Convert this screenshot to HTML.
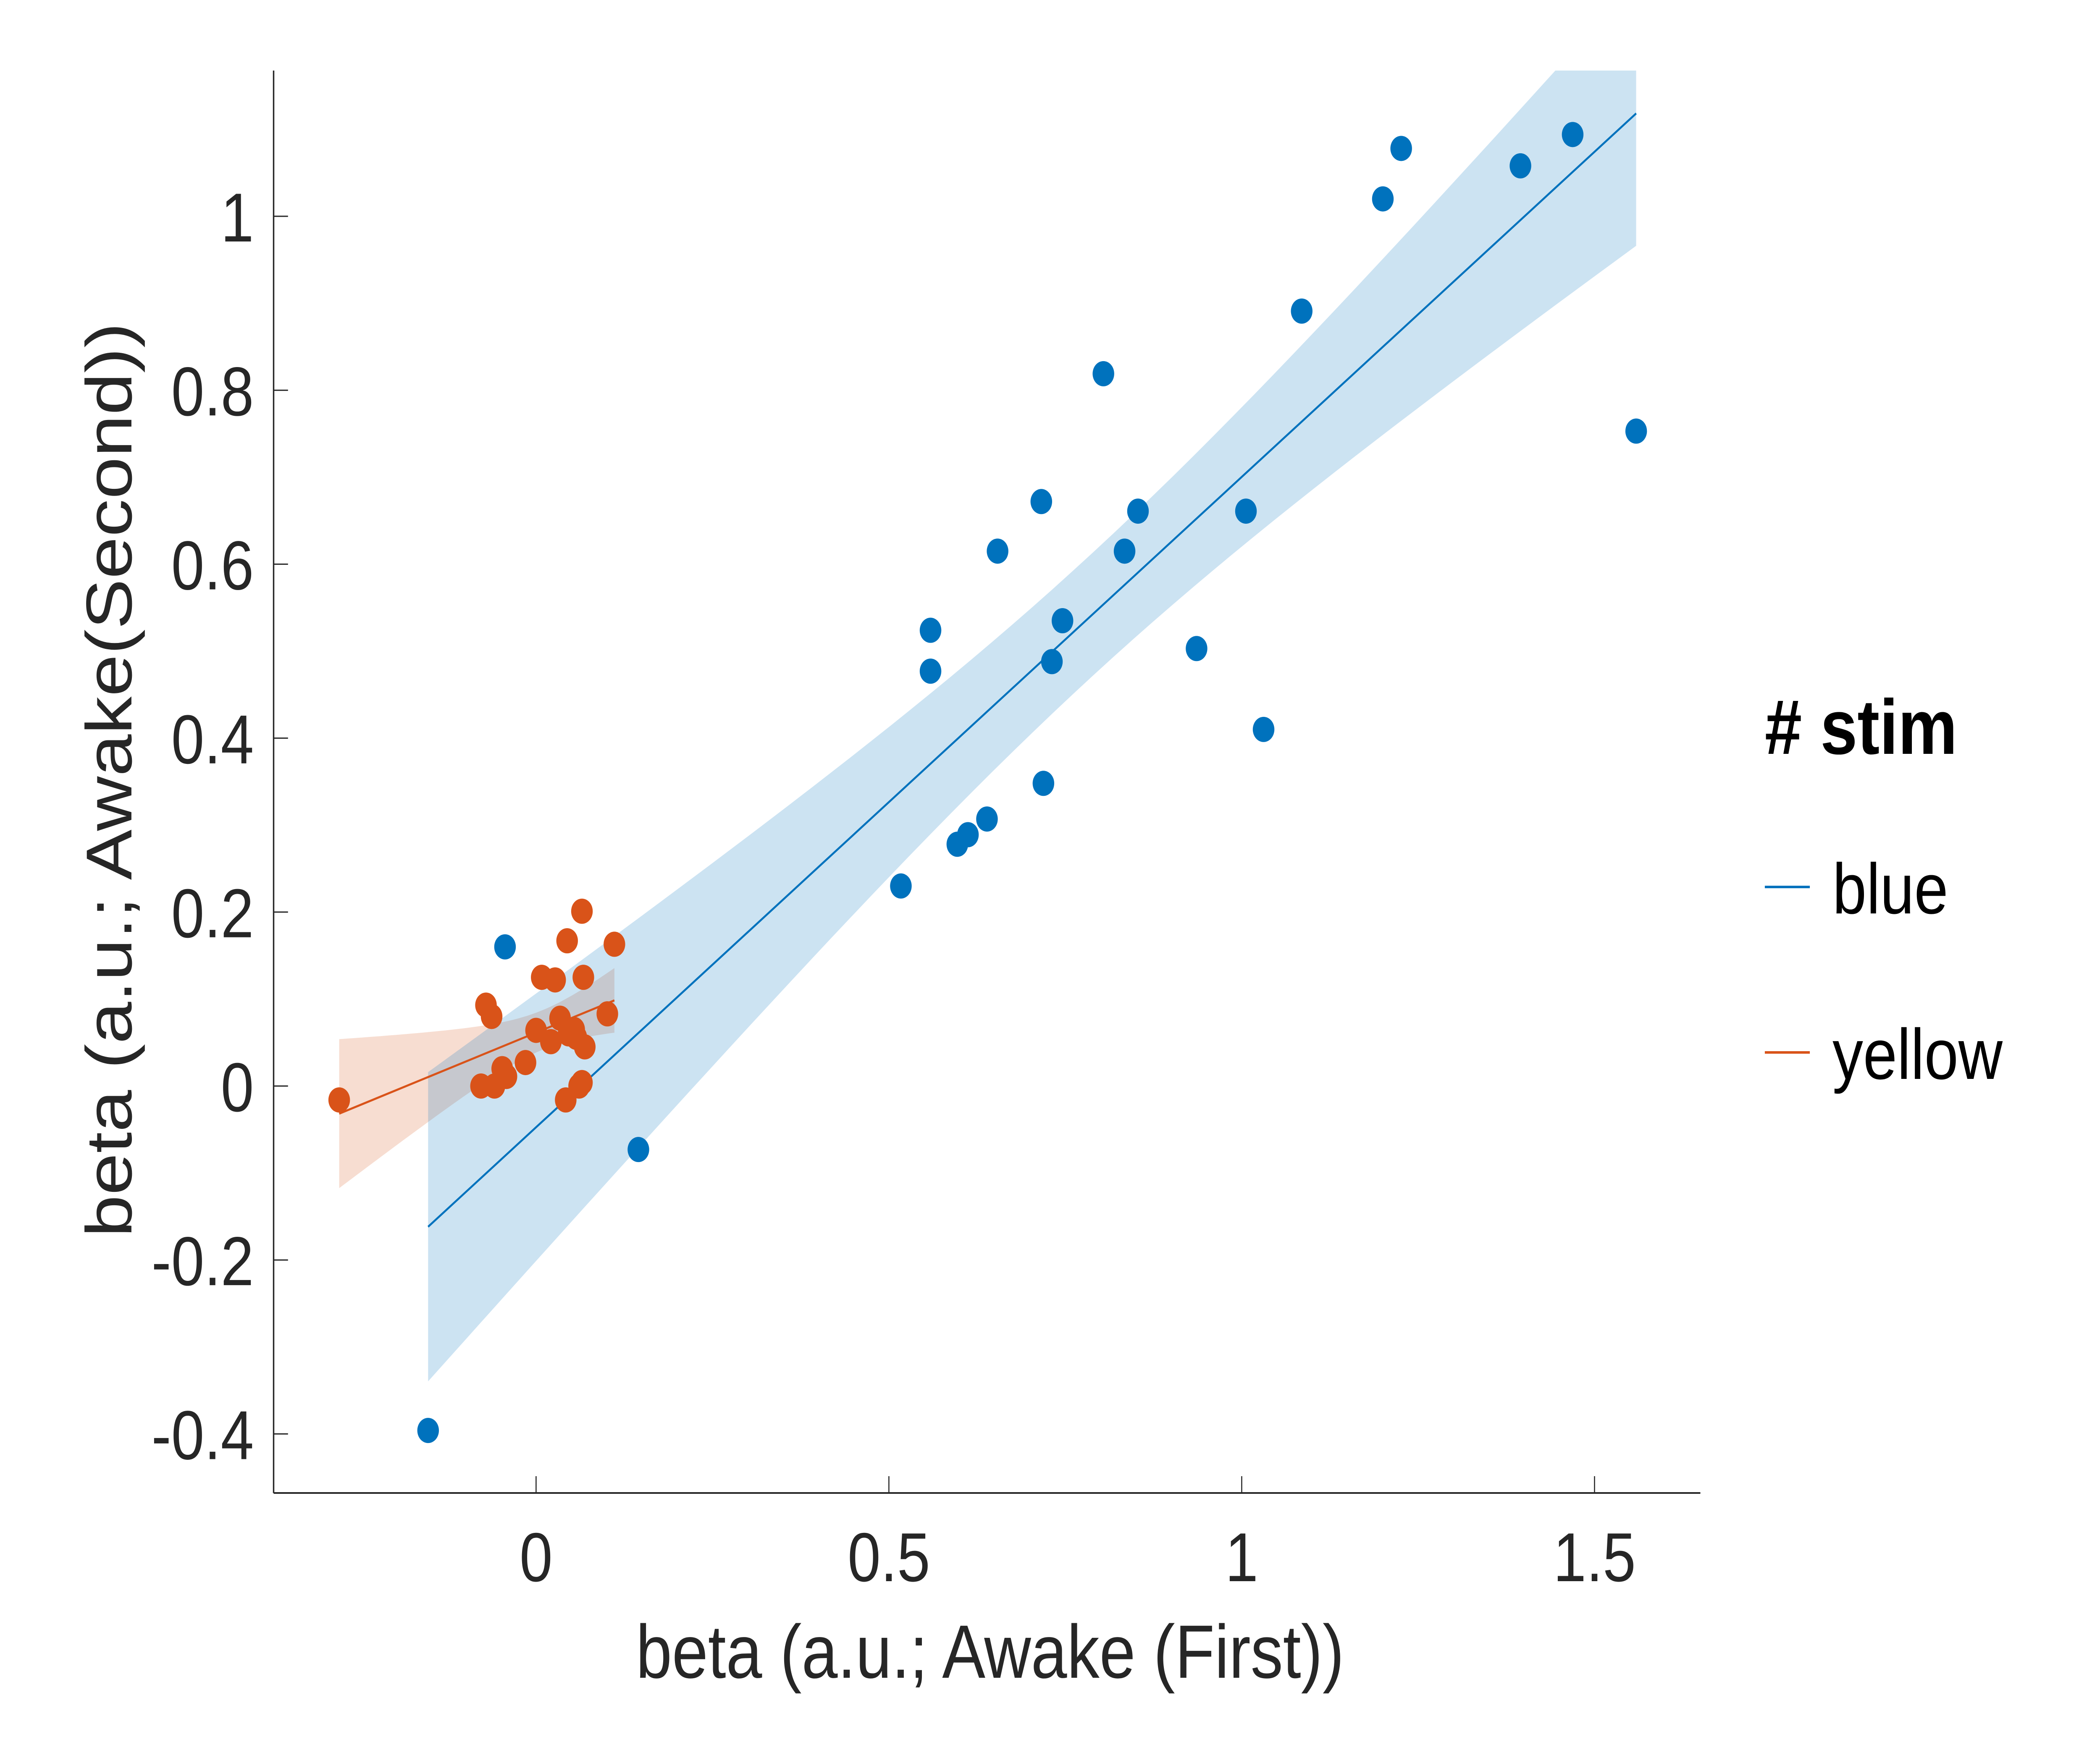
<!DOCTYPE html>
<html><head><meta charset="utf-8"><style>
html,body{margin:0;padding:0;background:#fff;width:100%;height:100%;overflow:hidden}
svg{display:block;position:fixed;left:0;top:0;width:100vw;height:100vh}
text{font-family:"Liberation Sans",Arial,sans-serif;fill:#262626}
</style></head><body>
<svg id="chart" xmlns="http://www.w3.org/2000/svg" viewBox="0 0 5833 4167" preserveAspectRatio="none">
<defs><clipPath id="plotclip"><rect x="760" y="168" width="3963" height="3387"/></clipPath></defs>
<g id="bands" clip-path="url(#plotclip)"></g>
<g id="fits" clip-path="url(#plotclip)"></g>
<g id="points"></g>
<g id="axes"></g>
<text x="2750" y="3995" font-size="180" text-anchor="middle">beta (a.u.; Awake (First))</text>
<text transform="translate(365,1857) rotate(-90)" font-size="180" text-anchor="middle">beta (a.u.; Awake(Second))</text>
<g>
<text x="4902" y="1795" font-size="185" font-weight="bold" style="fill:#000"># stim</text>
<line x1="4902" y1="2112" x2="5027" y2="2112" stroke="#0072BD" stroke-width="6"/>
<text x="5090" y="2175" font-size="170" style="fill:#000">blue</text>
<line x1="4902" y1="2506" x2="5027" y2="2506" stroke="#D95319" stroke-width="6"/>
<text x="5090" y="2569" font-size="170" style="fill:#000">yellow</text>
</g>
</svg>
<script>
const blueX=[-0.153,-0.044,0.145,0.517,0.559,0.559,0.597,0.612,0.639,0.654,0.716,0.719,0.731,0.746,0.804,0.834,0.853,0.936,1.006,1.031,1.085,1.200,1.226,1.395,1.469,1.559];
const blueY=[-0.396,0.160,-0.073,0.230,0.477,0.524,0.278,0.289,0.307,0.615,0.672,0.348,0.488,0.535,0.819,0.615,0.661,0.503,0.661,0.410,0.891,1.020,1.078,1.058,1.094,0.753];
const yellowX=[-0.279,-0.078,-0.071,-0.063,-0.059,-0.048,-0.042,-0.015,0.000,0.008,0.021,0.027,0.034,0.042,0.044,0.046,0.054,0.057,0.061,0.065,0.065,0.067,0.069,0.101,0.111];
const yellowY=[-0.016,0.000,0.093,0.080,0.000,0.020,0.011,0.027,0.064,0.125,0.051,0.122,0.078,-0.016,0.167,0.060,0.065,0.056,0.000,0.201,0.004,0.125,0.045,0.083,0.163];
const xTicks=[0,0.5,1,1.5];
const xTickLabels=["0","0.5","1","1.5"];
const yTicks=[-0.4,-0.2,0,0.2,0.4,0.6,0.8,1];
const yTickLabels=["-0.4","-0.2","0","0.2","0.4","0.6","0.8","1"];

const NS="http://www.w3.org/2000/svg";
const L=760,R=4723,T=168,B=3555;
const sx=v=>1489+v*1960;
const sy=v=>2586-v*2071;
function mk(tag,attrs,parent){const e=document.createElementNS(NS,tag);for(const k in attrs)e.setAttribute(k,attrs[k]);parent.appendChild(e);return e;}
const axes=document.getElementById('axes');
let e=mk('line',{x1:L,y1:T,x2:L,y2:B,stroke:'#262626','stroke-width':4},axes);


e=mk('line',{x1:L,y1:B,x2:R,y2:B,stroke:'#262626','stroke-width':4},axes);


xTicks.forEach((v,i)=>{
 let t=mk('line',{x1:sx(v),y1:B,x2:sx(v),y2:B-40,stroke:'#262626','stroke-width':3},axes);
 
 
 let tx=mk('text',{x:sx(v),y:3765,'font-size':165,'text-anchor':'middle'},axes);
 tx.textContent=xTickLabels[i];
 
 
});
yTicks.forEach((v,i)=>{
 let t=mk('line',{x1:L,y1:sy(v),x2:L+40,y2:sy(v),stroke:'#262626','stroke-width':3},axes);
 
 
 let tx=mk('text',{x:705,y:sy(v)+60,'font-size':165,'text-anchor':'end'},axes);
 tx.textContent=yTickLabels[i];
 
 
});
function fit(X,Y,tval,color,name){
 const n=X.length,mx=X.reduce((a,b)=>a+b)/n,my=Y.reduce((a,b)=>a+b)/n;
 let sxx=0,sxy=0;for(let i=0;i<n;i++){sxx+=(X[i]-mx)**2;sxy+=(X[i]-mx)*(Y[i]-my);}
 const b=sxy/sxx,a=my-b*mx;let sse=0;for(let i=0;i<n;i++)sse+=(Y[i]-a-b*X[i])**2;
 const s=Math.sqrt(sse/(n-2));
 const x0=Math.min(...X),x1=Math.max(...X);
 const up=[],lo=[];
 for(let k=0;k<=60;k++){const x=x0+(x1-x0)*k/60;const yh=a+b*x;const h=tval*s*Math.sqrt(1/n+(x-mx)**2/sxx);up.push([sx(x),sy(yh+h)]);lo.push([sx(x),sy(yh-h)]);}
 const pts=up.concat(lo.reverse()).map(p=>p[0].toFixed(1)+','+p[1].toFixed(1)).join(' ');
 let bd=mk('polygon',{points:pts,fill:color,'fill-opacity':0.2,stroke:'none'},document.getElementById('bands'));
 
 
 let ln=mk('line',{x1:sx(x0),y1:sy(a+b*x0),x2:sx(x1),y2:sy(a+b*x1),stroke:color,'stroke-width':5},document.getElementById('fits'));
 
 
}
fit(yellowX,yellowY,2.069,'#D95319','yellow');
fit(blueX,blueY,2.064,'#0072BD','blue');
const pg=document.getElementById('points');
blueX.forEach((x,i)=>{let c=mk('circle',{cx:sx(x),cy:sy(blueY[i]),r:30,fill:'#0072BD'},pg);
 
 });
yellowX.forEach((x,i)=>{let c=mk('circle',{cx:sx(x),cy:sy(yellowY[i]),r:30,fill:'#D95319'},pg);
 
 });
</script>
</body></html>
